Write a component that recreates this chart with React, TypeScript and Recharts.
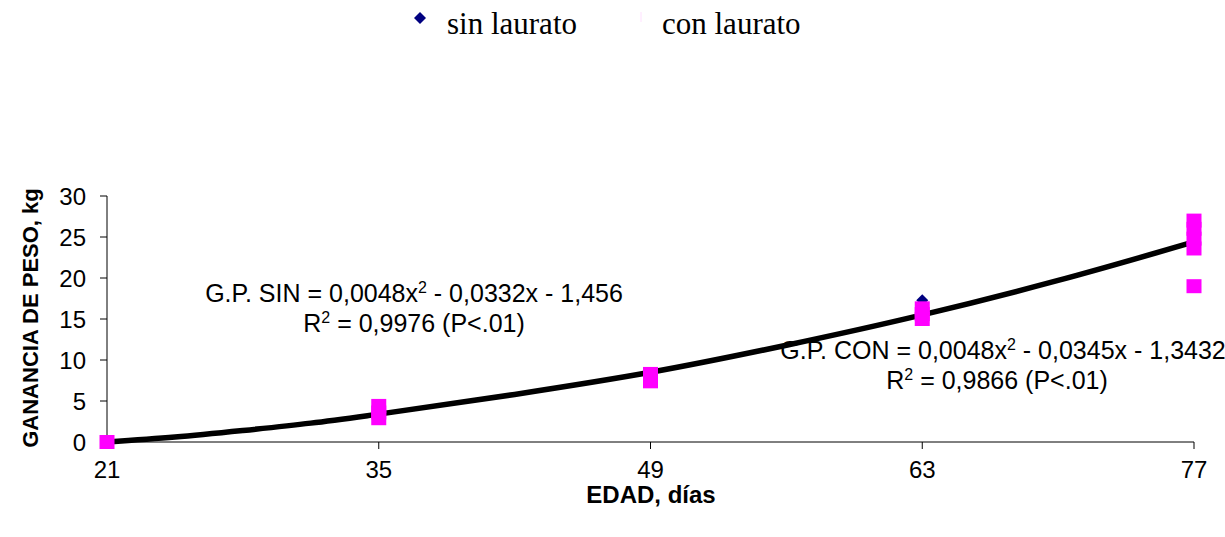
import React from 'react';
import { ComposedChart, Scatter, Line, XAxis, YAxis } from 'recharts';

// EDAD (días) vs ganancia de peso (kg)
const edadTicks = [21, 35, 49, 63, 77];
const pesoTicks = [0, 5, 10, 15, 20, 25, 30];

const sinLaurato = [
  { x: 21, y: 0 },
  { x: 35, y: 3.6 },
  { x: 35, y: 4.0 },
  { x: 49, y: 7.9 },
  { x: 49, y: 8.2 },
  { x: 63, y: 17.3 },
  { x: 63, y: 15.8 },
  { x: 77, y: 24.5 },
  { x: 77, y: 25.5 },
];

const conLaurato = [
  { x: 21, y: 0 },
  { x: 35, y: 2.9 },
  { x: 35, y: 3.6 },
  { x: 35, y: 4.4 },
  { x: 49, y: 7.4 },
  { x: 49, y: 7.9 },
  { x: 49, y: 8.3 },
  { x: 63, y: 15.0 },
  { x: 63, y: 15.6 },
  { x: 63, y: 16.3 },
  { x: 77, y: 19.0 },
  { x: 77, y: 23.6 },
  { x: 77, y: 24.8 },
  { x: 77, y: 26.0 },
  { x: 77, y: 27.0 },
];

// trend curve
const tendencia = [
  { x: 21, y: 0 },
  { x: 24.5, y: 0.6 },
  { x: 28, y: 1.4 },
  { x: 31.5, y: 2.3 },
  { x: 35, y: 3.4 },
  { x: 42, y: 5.8 },
  { x: 49, y: 8.5 },
  { x: 56, y: 11.8 },
  { x: 63, y: 15.5 },
  { x: 70, y: 19.7 },
  { x: 77, y: 24.4 },
];

const Square = (props: any) => {
  const { cx, cy } = props;
  return <rect x={cx - 7.5} y={cy - 7} width={15} height={14} fill="#ff00ff" />;
};

const Diamond = (props: any) => {
  const { cx, cy } = props;
  return (
    <polygon
      points={`${cx},${cy - 6} ${cx + 6},${cy} ${cx},${cy + 6} ${cx - 6},${cy}`}
      fill="#000080"
    />
  );
};

const arial = 'Arial, "Liberation Sans", sans-serif';
const times = '"Times New Roman", "Liberation Serif", serif';

export default function App() {
  return (
    <div style={{ position: 'absolute', left: 0, top: 0, width: 1225, height: 537, background: '#fff' }}>
      <ComposedChart
        width={1225}
        height={537}
        margin={{ top: 196, right: 31, bottom: 65, left: 0 }}
      >
        <XAxis
          type="number"
          dataKey="x"
          domain={[21, 77]}
          ticks={edadTicks}
          height={30}
          stroke="#000"
          tickSize={7}
          tickMargin={12}
          tick={{ fill: '#000', fontSize: 24, fontFamily: arial }}
          allowDuplicatedCategory={false}
        />
        <YAxis
          type="number"
          dataKey="y"
          domain={[0, 30]}
          ticks={pesoTicks}
          width={107}
          stroke="#000"
          tickSize={7}
          tickMargin={14}
          tick={{ fill: '#000', fontSize: 24, fontFamily: arial }}
        />
        <Scatter data={sinLaurato} shape={<Diamond />} isAnimationActive={false} />
        <Scatter data={conLaurato} shape={<Square />} isAnimationActive={false} />
        <Line
          data={tendencia}
          dataKey="y"
          type="monotone"
          stroke="#000"
          strokeWidth={5.5}
          dot={false}
          activeDot={false}
          isAnimationActive={false}
        />
      </ComposedChart>

      {/* leyenda */}
      <svg style={{ position: 'absolute', left: 0, top: 0 }} width={1225} height={60}>
        <polygon points="420,12 426,18 420,24 414,18" fill="#000080" />
        <line x1={641} y1={12} x2={641} y2={22} stroke="#ffe0ff" strokeWidth={1} />
        <text x={447} y={34} fontFamily={times} fontSize={31}>
          sin laurato
        </text>
        <text x={662} y={34} fontFamily={times} fontSize={31}>
          con laurato
        </text>
      </svg>

      <svg style={{ position: 'absolute', left: 0, top: 0 }} width={1225} height={537}>
        <text x={414} y={302} textAnchor="middle" fontFamily={arial} fontSize={25}>
          G.P. SIN = 0,0048x<tspan dy={-9} fontSize={16}>2</tspan>
          <tspan dy={9}> - 0,0332x - 1,456</tspan>
        </text>
        <text x={414} y={332} textAnchor="middle" fontFamily={arial} fontSize={25}>
          R<tspan dy={-9} fontSize={16}>2</tspan>
          <tspan dy={9}> = 0,9976 (P&lt;.01)</tspan>
        </text>
        <text x={1003} y={359} textAnchor="middle" fontFamily={arial} fontSize={25}>
          G.P. CON = 0,0048x<tspan dy={-9} fontSize={16}>2</tspan>
          <tspan dy={9}> - 0,0345x - 1,3432</tspan>
        </text>
        <text x={997} y={389} textAnchor="middle" fontFamily={arial} fontSize={25}>
          R<tspan dy={-9} fontSize={16}>2</tspan>
          <tspan dy={9}> = 0,9866 (P&lt;.01)</tspan>
        </text>
        <text
          x={651}
          y={503}
          textAnchor="middle"
          fontFamily={arial}
          fontSize={24}
          fontWeight="bold"
        >
          EDAD, días
        </text>
        <text
          x={38}
          y={318}
          textAnchor="middle"
          fontFamily={arial}
          fontSize={22}
          fontWeight="bold"
          transform="rotate(-90 38 318)"
        >
          GANANCIA DE PESO, kg
        </text>
      </svg>
    </div>
  );
}
